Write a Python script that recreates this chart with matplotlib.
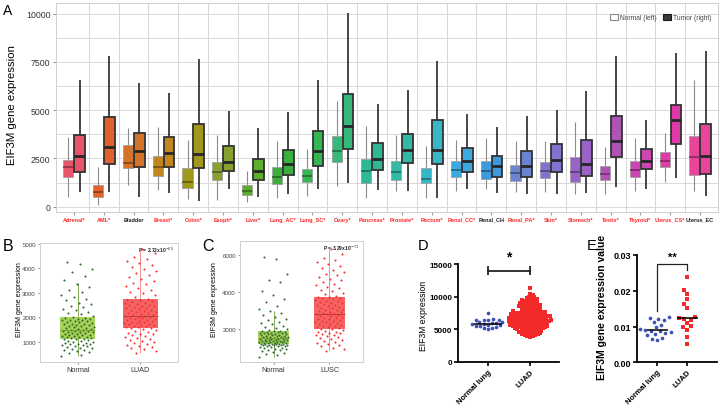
import numpy as np
import matplotlib
matplotlib.use("Agg")
import matplotlib.pyplot as plt
from matplotlib.patches import Rectangle, Patch
import matplotlib.colors as mcolors

plt.rcParams['font.family'] = ['Liberation Sans', 'DejaVu Sans']

# ---------------- Panel A data ----------------
tissues = ["Adrenal*", "AML*", "Bladder", "Breast*", "Colon*", "Esoph*", "Liver*", "Lung_AC*",
           "Lung_SC*", "Ovary*", "Pancreas*", "Prostate*", "Rectum*", "Renal_CC*", "Renal_CH",
           "Renal_PA*", "Skin*", "Stomach*", "Testis*", "Thyroid*", "Uterus_CS*", "Uterus_EC"]
normal_low = [520, 90, 1130, 870, 380, 350, 230, 470, 570, 1090, 430, 820, 430, 830, 920, 780, 780, 660, 660, 820, 1270, 830]
normal_q1 = [1560, 520, 1990, 1610, 950, 1390, 610, 1160, 1270, 2300, 1250, 1390, 1200, 1530, 1440, 1350, 1470, 1300, 1390, 1530, 2050, 1650]
normal_med = [2050, 780, 2270, 2030, 1300, 1820, 820, 1540, 1580, 2890, 1850, 1820, 1440, 1910, 1850, 1730, 1850, 1790, 1700, 1910, 2390, 2550]
normal_q3 = [2430, 1130, 3170, 2650, 1990, 2310, 1130, 2050, 1960, 3670, 2480, 2340, 1990, 2370, 2340, 2170, 2310, 2550, 2080, 2340, 2830, 3640]
normal_high = [3590, 2030, 4070, 4110, 3470, 3690, 1870, 3380, 2980, 5460, 4160, 3730, 3120, 3470, 3550, 3380, 3380, 4390, 3090, 3550, 3810, 6590]
tumor_low = [780, 750, 500, 690, 310, 900, 520, 640, 900, 1250, 870, 830, 430, 920, 730, 660, 660, 690, 1000, 920, 1470, 570]
tumor_q1 = [1770, 2220, 2030, 2030, 1990, 1850, 1370, 1650, 2110, 3000, 1910, 2250, 2220, 1820, 1530, 1560, 1790, 1610, 2550, 1960, 3240, 1700]
tumor_med = [2630, 3070, 2860, 2770, 2740, 2310, 1850, 2200, 2890, 4190, 2480, 2910, 2950, 2340, 2080, 2080, 2430, 2220, 3380, 2390, 4470, 2650]
tumor_q3 = [3730, 4660, 3810, 3590, 4300, 3120, 2480, 2950, 3930, 5860, 3290, 3780, 4470, 3030, 2650, 2860, 3260, 3430, 4680, 3000, 5290, 4300]
tumor_high = [6550, 7830, 6410, 5890, 7660, 4940, 4070, 4900, 6550, 10050, 5320, 6070, 7570, 4820, 4110, 4680, 4990, 6010, 7800, 4510, 7970, 8090]
a_yticks = [0, 2500, 5000, 7500, 10000]

tissue_colors = ['#E9546B', '#E2622F', '#D4742A', '#C0861F', '#A0981B', '#86A12F', '#5DAE2E',
                 '#3BB03F', '#33B550', '#35B97A', '#2FB894', '#33B8A6', '#38B6C6', '#3EA9E0',
                 '#3D98DC', '#6A84D2', '#8273D0', '#9A62C7', '#B053B7', '#CC46B1', '#E03AA7', '#E8449A']

# ---------------- Panel B / C data ----------------
b_groups = ["Normal", "LUAD"]
b_normal = [420, 455, 530, 575, 610, 650, 688, 705, 742, 768, 795, 812, 838, 857, 873, 896, 915, 931, 952, 968, 985, 1002, 1024, 1047, 1081,
            1105, 1118, 1136, 1152, 1171, 1183, 1204, 1219, 1228, 1247, 1262, 1281, 1296, 1318, 1327, 1346, 1362, 1385, 1397, 1414, 1428, 1446, 1463, 1479, 1492,
            1508, 1527, 1553, 1566, 1592, 1608, 1634, 1649, 1671, 1688, 1712, 1735, 1748, 1773, 1791, 1812, 1834, 1848, 1877, 1893, 1912, 1936, 1951, 1974, 1993,
            2024, 2071, 2126, 2188, 2227, 2284, 2342, 2415, 2463, 2537, 2605, 2688, 2746, 2831, 2917, 3013, 3122, 3247, 3376, 3518, 3674, 3846, 3968, 4185, 4270]
b_luad = [565, 612, 690, 734, 786, 842, 881, 925, 968, 1012, 1048, 1087, 1123, 1164, 1196, 1238, 1271, 1305, 1338, 1372, 1408, 1442, 1476, 1512, 1547,
          1572, 1591, 1618, 1637, 1659, 1681, 1702, 1725, 1748, 1769, 1784, 1806, 1827, 1851, 1868, 1889, 1908, 1932, 1951, 1972, 1990, 2012, 2031, 2048, 2066,
          2089, 2114, 2138, 2163, 2187, 2215, 2238, 2264, 2291, 2317, 2339, 2366, 2389, 2414, 2442, 2468, 2491, 2517, 2544, 2571, 2598, 2627, 2659, 2688, 2722,
          2768, 2836, 2904, 2981, 3052, 3118, 3197, 3263, 3341, 3408, 3476, 3552, 3634, 3712, 3795, 3876, 3958, 4043, 4122, 4207, 4298, 4386, 4474, 4612, 4785]
b_box_low = [420, 565]
b_box_q1 = [1100, 1560]
b_box_med = [1500, 2070]
b_box_q3 = [2000, 2740]
b_box_high = [3400, 4700]
b_yticks = [1000, 2000, 3000, 4000, 5000]
b_ptext = "P = 2.72x10$^{-25}$"

c_groups = ["Normal", "LUSC"]
c_normal = [520, 610, 690, 745, 792, 835, 872, 908, 941, 968, 994, 1018, 1041, 1063, 1082, 1101, 1118, 1134, 1149, 1162, 1172, 1181, 1189, 1194, 1198,
            1212, 1226, 1238, 1251, 1265, 1277, 1290, 1302, 1315, 1327, 1339, 1351, 1364, 1376, 1388, 1401, 1413, 1426, 1438, 1451, 1463, 1476, 1489, 1502, 1516,
            1531, 1548, 1564, 1581, 1597, 1614, 1630, 1647, 1663, 1680, 1696, 1713, 1729, 1746, 1762, 1779, 1795, 1812, 1828, 1845, 1861, 1878, 1894, 1911, 1927,
            1962, 2018, 2076, 2135, 2197, 2262, 2331, 2405, 2484, 2567, 2656, 2752, 2858, 2976, 3108, 3261, 3438, 3612, 3837, 4054, 4520, 4650, 4960, 5760, 5850]
c_lusc = [862, 935, 1012, 1088, 1158, 1224, 1286, 1345, 1401, 1453, 1502, 1549, 1593, 1636, 1676, 1714, 1751, 1786, 1819, 1851, 1882, 1911, 1958, 1996, 2028,
          2071, 2104, 2137, 2169, 2202, 2236, 2268, 2301, 2334, 2367, 2399, 2432, 2466, 2498, 2531, 2564, 2597, 2629, 2662, 2695, 2728, 2761, 2794, 2812, 2829,
          2867, 2903, 2942, 2978, 3016, 3052, 3091, 3127, 3165, 3201, 3239, 3276, 3313, 3351, 3388, 3426, 3463, 3501, 3538, 3576, 3613, 3651, 3688, 3711, 3728,
          3792, 3871, 3951, 4032, 4113, 4196, 4279, 4364, 4449, 4536, 4624, 4713, 4803, 4895, 4989, 5084, 5181, 5280, 5382, 5486, 5594, 5706, 5823, 6046, 6290]
c_box_low = [520, 862]
c_box_q1 = [1200, 2040]
c_box_med = [1520, 2830]
c_box_q3 = [1930, 3730]
c_box_high = [3000, 6290]
c_yticks = [2000, 4000, 6000]
c_ptext = "P = 3.29x10$^{-71}$"

# ---------------- Panel D data ----------------
d_groups = ["Normal lung", "LUAD"]
d_normal = [7500, 6550, 6500, 6450, 6450, 6400, 6100, 6050, 6000, 5950, 5800, 5750, 5650, 5600, 5500, 5450, 5350, 5250, 5150, 5000]
d_luad = [11300,
          10480, 10260,
          10020, 9930, 9860,
          9720, 9640, 9560, 9480, 9420,
          9340, 9280, 9210, 9150, 9090, 9030, 8970,
          8940, 8880, 8820, 8760, 8720, 8680, 8640, 8610,
          8560, 8500, 8450, 8390, 8340, 8290, 8240, 8210,
          8150, 8080, 8020, 7960, 7890, 7830,
          7780, 7750, 7720, 7690, 7660, 7620, 7590, 7560, 7530, 7500, 7470, 7430,
          7390, 7360, 7330, 7300, 7270, 7240, 7210, 7180, 7150, 7120, 7090, 7060, 7030, 7010,
          6990, 6960, 6930, 6900, 6870, 6840, 6810, 6780, 6750, 6720, 6690, 6670, 6650, 6630, 6610,
          6590, 6560, 6530, 6500, 6470, 6440, 6410, 6380, 6350, 6320, 6290, 6270, 6250, 6230, 6210,
          6180, 6150, 6120, 6090, 6060, 6030, 6000, 5970, 5940, 5910, 5880, 5850, 5830, 5810,
          5780, 5740, 5700, 5660, 5620, 5590, 5560, 5530, 5500, 5470, 5440, 5420, 5410,
          5370, 5330, 5290, 5250, 5210, 5170, 5130, 5090, 5050, 5020, 5000,
          4950, 4900, 4850, 4800, 4750, 4700, 4660, 4630, 4610,
          4550, 4480, 4410, 4350, 4290, 4240, 4210,
          4150, 4070, 3990, 3920, 3860]
d_yticks = [0, 5000, 10000, 15000]
d_sig_y = 13960
d_star = "*"

# ---------------- Panel E data ----------------
e_groups = ["Normal lung", "LUAD"]
e_normal = [0.0127, 0.0124, 0.0121, 0.0118, 0.0112, 0.0105, 0.0098, 0.0093, 0.0090,
            0.0088, 0.0087, 0.0085, 0.0082, 0.0078, 0.0075, 0.0069, 0.0066, 0.0063]
e_luad = [0.0239, 0.0203, 0.0192, 0.0176, 0.0164, 0.0153, 0.0127, 0.0124, 0.0121,
          0.0117, 0.0110, 0.0101, 0.0098, 0.0091, 0.0071, 0.0051]
e_yticks = [0.00, 0.01, 0.02, 0.03]
e_bracket = [0.0144, 0.0276, 0.0257]
e_star = "**"

# ---------------- figure ----------------
W, H = 720, 410
fig = plt.figure(figsize=(7.2, 4.1), dpi=100)


def ax_px(l, t, r, b):
    return fig.add_axes([l / W, 1 - b / H, (r - l) / W, (b - t) / H])


def darken(c, f=0.6):
    r, g, b = mcolors.to_rgb(c)
    return (r * f, g * f, b * f)


# ---- Panel A ----
axA = ax_px(56, 4, 718, 213)
n = len(tissues)
xs = np.arange(1, n + 1)
for i, x in enumerate(xs):
    col = tissue_colors[i]
    xn, xt = x - 0.19, x + 0.19
    wn, wt = 0.34, 0.36
    axA.vlines(xn, normal_low[i], normal_q1[i], color='#8c8c8c', lw=0.8, zorder=3)
    axA.vlines(xn, normal_q3[i], normal_high[i], color='#8c8c8c', lw=0.8, zorder=3)
    axA.add_patch(Rectangle((xn - wn / 2, normal_q1[i]), wn, normal_q3[i] - normal_q1[i],
                            fc=col, ec='#a0a0a0', lw=0.6, zorder=4))
    axA.hlines(normal_med[i], xn - wn / 2, xn + wn / 2, color=darken(col, 0.6), lw=1.2, zorder=5)
    axA.vlines(xt, tumor_low[i], tumor_q1[i], color='#383838', lw=1.3, zorder=3)
    axA.vlines(xt, tumor_q3[i], tumor_high[i], color='#383838', lw=1.3, zorder=3)
    axA.add_patch(Rectangle((xt - wt / 2, tumor_q1[i]), wt, tumor_q3[i] - tumor_q1[i],
                            fc=col, ec='#333333', lw=1.3, zorder=4))
    axA.hlines(tumor_med[i], xt - wt / 2, xt + wt / 2, color='#262626', lw=2.0, zorder=5)
for b in np.arange(1.5, n, 1.0):
    axA.axvline(b, color='#d6d6d6', lw=0.7, zorder=0)
axA.set_xlim(0.4, n + 0.6)
axA.set_ylim(-280, 10560)
axA.set_yticks(a_yticks)
axA.set_yticks([1250, 3750, 6250, 8750], minor=True)
axA.grid(axis='y', which='both', color='#d9d9d9', lw=0.7, zorder=0)
axA.set_axisbelow(True)
axA.tick_params(axis='y', which='both', length=0, labelsize=6.3, labelcolor='#333333', pad=2)
axA.tick_params(axis='y', which='major', length=2, color='#999999')
axA.set_xticks(xs)
axA.set_xticklabels(tissues, fontsize=4.0, fontweight='bold')
for lab, t in zip(axA.get_xticklabels(), tissues):
    lab.set_color('#ff2a2a' if t.endswith('*') else '#222222')
axA.tick_params(axis='x', length=2, color='#999999', pad=1.5)
for s in axA.spines.values():
    s.set_color('#cfcfcf')
    s.set_linewidth(0.7)
handles = [Patch(fc='white', ec='#8a8a8a', lw=0.8, label='Normal (left)'),
           Patch(fc='#3a3a3a', ec='#1a1a1a', lw=0.8, label='Tumor (right)')]
axA.legend(handles=handles, loc='upper right', bbox_to_anchor=(1.0, 0.975), ncol=2, frameon=False,
           fontsize=4.8, handlelength=1.1, handleheight=1.0, columnspacing=1.0, handletextpad=0.4,
           labelcolor='#444444')
fig.text(12 / W, 1 - 105 / H, "EIF3M gene expression", rotation=90, ha='center', va='center', fontsize=8.2)
fig.text(3 / W, 1 - 4 / H, "A", ha='left', va='top', fontsize=10)


# ---- Panels B / C ----
def jitter_panel(ax, groups, vals_list, lows, q1s, meds, q3s, highs, ylim, yticks, ptext):
    box_cols = ['#9BCB3C', '#F24A4A']
    pt_cols = ['#2F6B2F', '#FF2A2A']
    line_cols = ['#6E9E3A', '#F08080']
    for gi, vals in enumerate(vals_list):
        x0 = gi + 1
        k = np.arange(len(vals))
        offs = (((k * 0.6180339887) + 0.37 * gi) % 1.0 - 0.5) * 0.52
        ax.vlines(x0, lows[gi], highs[gi], color=line_cols[gi], lw=0.6, zorder=1)
        ax.add_patch(Rectangle((x0 - 0.275, q1s[gi]), 0.55, q3s[gi] - q1s[gi], fc=box_cols[gi],
                               ec='none', alpha=0.85, zorder=2))
        ax.scatter(x0 + offs, vals, s=2.2, c=pt_cols[gi], lw=0, zorder=3)
        ax.hlines(meds[gi], x0 - 0.275, x0 + 0.275, color=darken(box_cols[gi], 0.75), lw=0.6, zorder=4)
    ax.set_xlim(0.4, 2.6)
    ax.set_ylim(*ylim)
    ax.set_yticks(yticks)
    ax.set_xticks([1, 2])
    ax.set_xticklabels(groups, fontsize=5.2, color='#333333')
    ax.tick_params(axis='y', length=1.5, color='#999999', labelsize=4.4, labelcolor='#444444', pad=1.5)
    ax.tick_params(axis='x', length=1.5, color='#999999', pad=1.5)
    for s in ax.spines.values():
        s.set_color('#d0d0d0')
        s.set_linewidth(0.7)
    ax.text(0.97, 0.985, ptext, transform=ax.transAxes, ha='right', va='top', fontsize=3.6,
            fontweight='bold', color='#222222')


axB = ax_px(40, 244, 178, 363)
jitter_panel(axB, b_groups, [b_normal, b_luad], b_box_low, b_box_q1, b_box_med, b_box_q3, b_box_high,
             (180, 5030), b_yticks, b_ptext)
fig.text(20 / W, 1 - 300 / H, "EIF3M gene expression", rotation=90, ha='center', va='center', fontsize=5)
fig.text(3 / W, 1 - 239 / H, "B", ha='left', va='top', fontsize=11.5)

axC = ax_px(240, 242, 363, 363)
jitter_panel(axC, c_groups, [c_normal, c_lusc], c_box_low, c_box_q1, c_box_med, c_box_q3, c_box_high,
             (250, 6730), c_yticks, c_ptext)
fig.text(215 / W, 1 - 300 / H, "EIF3M gene expression", rotation=90, ha='center', va='center', fontsize=5)
fig.text(202 / W, 1 - 239 / H, "C", ha='left', va='top', fontsize=11.5)


# ---- swarm helper ----
def swarm_offsets(vals, px_per_unit, d):
    vals = np.asarray(vals, float)
    order = np.argsort(vals)
    ys = vals * px_per_unit
    placed = []
    out = np.zeros(len(vals))
    for idx in order:
        y = ys[idx]
        intervals = []
        for px, py in placed:
            dy = abs(y - py)
            if dy < d:
                w = np.sqrt(d * d - dy * dy)
                intervals.append((px - w, px + w))
        cands = [0.0] + [a for a, b in intervals] + [b for a, b in intervals]
        cands.sort(key=lambda c: (round(abs(c), 6), c))
        chosen = 0.0
        for c in cands:
            if all(not (a + 1e-9 < c < b - 1e-9) for a, b in intervals):
                chosen = c
                break
        placed.append((chosen, y))
        out[idx] = chosen
    return out


def prism_axes(ax, groups, yticks, ticklabels, lsize):
    ax.spines['top'].set_visible(False)
    ax.spines['right'].set_visible(False)
    ax.spines['left'].set_linewidth(1.3)
    ax.spines['bottom'].set_linewidth(1.3)
    ax.set_yticks(yticks)
    ax.set_yticklabels(ticklabels, fontsize=lsize, fontweight='bold')
    ax.set_xticks([1, 2])
    ax.set_xticklabels(groups, rotation=45, ha='right', rotation_mode='anchor', fontsize=5.6,
                       fontweight='bold')
    ax.tick_params(width=1.2, length=3.0, pad=1.2)


# ---- Panel D ----
axD = ax_px(458, 265, 559, 363)
axD.set_ylim(0, 15000)
axD.set_xlim(0.29, 2.69)
ypx_D = 98.0 / 15000
xpx_D = 42.0
offN = swarm_offsets(d_normal, ypx_D, 4.2) / xpx_D
offL = swarm_offsets(d_luad, ypx_D, 2.7) / xpx_D
axD.scatter(1 + offN, d_normal, s=7, marker='o', c='#3F51B5', lw=0, zorder=3)
axD.scatter(2 + offL, d_luad, s=6, marker='s', c='#F22A2A', lw=0, zorder=3)
axD.hlines(np.median(d_normal), 1 - 0.33, 1 + 0.33, color='black', lw=1.1, zorder=4)
axD.hlines(np.median(d_luad), 2 - 0.33, 2 + 0.33, color='black', lw=1.1, zorder=2)
axD.plot([1, 2], [d_sig_y, d_sig_y], color='#222222', lw=1.3, clip_on=False)
axD.vlines([1, 2], d_sig_y - 700, d_sig_y + 700, color='#222222', lw=1.3, clip_on=False)
axD.text(1.5, d_sig_y + 1100, d_star, ha='center', va='bottom', fontsize=10, fontweight='bold',
         clip_on=False)
prism_axes(axD, d_groups, d_yticks, ["0", "5000", "10000", "15000"], 5.9)
fig.text(424 / W, 1 - 316 / H, "EIF3M expression", rotation=90, ha='center', va='center', fontsize=6.2)
fig.text(418 / W, 1 - 239 / H, "D", ha='left', va='top', fontsize=10.5)

# ---- Panel E ----
axE = ax_px(637, 256, 717, 363.3)
axE.set_ylim(0, 0.03)
axE.set_xlim(0.33, 3.0)
ypx_E = 107.3 / 0.03
xpx_E = 30.0
offEN = swarm_offsets(e_normal, ypx_E, 5.6) / xpx_E
offEL = swarm_offsets(e_luad, ypx_E, 5.0) / xpx_E
axE.scatter(1 + offEN, e_normal, s=7, marker='o', c='#3F51B5', lw=0, zorder=3)
axE.scatter(2 + offEL, e_luad, s=6, marker='s', c='#F22A2A', lw=0, zorder=3)
axE.hlines(np.median(e_normal), 1 - 0.35, 1 + 0.35, color='black', lw=1.1, zorder=4)
axE.hlines(np.median(e_luad), 2 - 0.35, 2 + 0.35, color='black', lw=1.1, zorder=4)
axE.plot([1, 1, 2, 2], [e_bracket[0], e_bracket[1], e_bracket[1], e_bracket[2]], color='#222222',
         lw=0.9, clip_on=False)
axE.text(1.5, e_bracket[1] + 0.0005, e_star, ha='center', va='bottom', fontsize=8, fontweight='bold',
         clip_on=False)
prism_axes(axE, e_groups, e_yticks, ["0.00", "0.01", "0.02", "0.03"], 6.5)
fig.text(602 / W, 1 - 307 / H, "EIF3M gene expression value", rotation=90, ha='center', va='center',
         fontsize=7.5, fontweight='bold')
fig.text(587 / W, 1 - 239 / H, "E", ha='left', va='top', fontsize=10.5)

fig.savefig("out.png", dpi=100)
